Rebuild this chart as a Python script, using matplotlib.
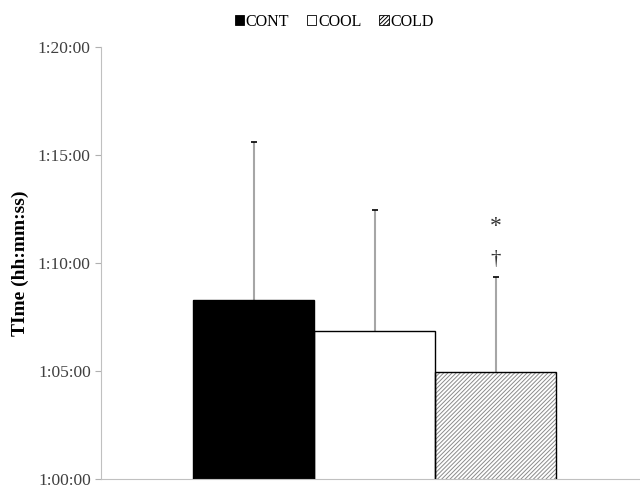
import matplotlib
matplotlib.use('Agg')
import matplotlib.pyplot as plt
from matplotlib.ticker import FuncFormatter, MultipleLocator
from matplotlib.patches import Patch

# values in seconds
groups = ['CONT', 'COOL', 'COLD']
means = [4096, 4012, 3898]      # 1:08:16, 1:06:52, 1:04:58
sd_up = [440, 334, 264]         # tops ~1:15:36, 1:12:26, 1:09:22
fills = ['black', 'white', 'white']
hatches = [None, None, '////////']
marks = ['*', '\u2020']
mark_y = [4300, 4210]

plt.rcParams['font.family'] = ['Liberation Serif', 'DejaVu Serif']
plt.rcParams['hatch.color'] = '#8a8a8a'
plt.rcParams['hatch.linewidth'] = 0.7

fig = plt.figure(figsize=(6.4, 4.9), dpi=100)
ax = fig.add_axes([0.158, 0.023, 0.842, 0.881])

x = list(range(len(groups)))
for i in x:
    ax.bar(i, means[i], width=1.0, color=fills[i], hatch=hatches[i],
           edgecolor='#8a8a8a' if hatches[i] else 'none', linewidth=0, zorder=2)
    ax.bar(i, means[i], width=1.0, fill=False, edgecolor='black', linewidth=1.0, zorder=3)

# upper error bars only
tops = [m + s for m, s in zip(means, sd_up)]
ax.vlines(x, means, tops, colors='#a6a6a6', linewidth=1.5, zorder=1)
ax.plot(x, tops, ls='none', marker='_', ms=5, mew=1.2, color='black', zorder=1)

ax.text(2, mark_y[0], marks[0], ha='center', va='center', fontsize=17, color='#333333')
ax.text(2, mark_y[1], marks[1], ha='center', va='center', fontsize=15, color='#333333')

ax.set_ylim(3600, 4800)
ax.set_xlim(-1.26, 3.19)
ax.yaxis.set_major_locator(MultipleLocator(300))
ax.yaxis.set_major_formatter(FuncFormatter(
    lambda v, p: '%d:%02d:%02d' % (v // 3600, (v % 3600) // 60, v % 60)))
ax.set_xticks([])
ax.tick_params(axis='y', labelsize=12.5, colors='#b0b0b0', labelcolor='#404040',
               length=4, width=0.8)
for s in ['top', 'right']:
    ax.spines[s].set_visible(False)
ax.spines['left'].set_color('#c0c0c0')
ax.spines['bottom'].set_color('#c0c0c0')
ax.set_ylabel('TIme (hh:mm:ss)', fontsize=14, fontweight='bold', labelpad=6)

handles = [Patch(facecolor=fills[i], edgecolor='black', hatch=hatches[i], linewidth=0.6)
           for i in x]
fig.legend(handles, groups, loc='center', bbox_to_anchor=(0.522, 0.955), ncol=3,
           frameon=False, fontsize=11.5, handlelength=0.6, handleheight=0.6,
           handletextpad=0.1, columnspacing=1.1)

fig.savefig('out.png', dpi=100)
